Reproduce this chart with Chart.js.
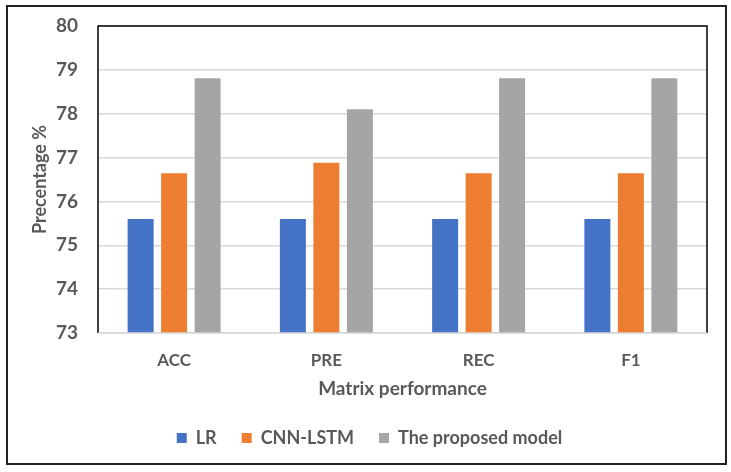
<!DOCTYPE html>
<html>
<head>
<meta charset="utf-8">
<script src="https://cdn.jsdelivr.net/npm/chart.js@4/dist/chart.umd.min.js"></script>
<style>
html,body{margin:0;padding:0;background:#fff;}
#wrap{width:731px;height:472px;position:relative;}
</style>
</head>
<body>
<div id="wrap"><canvas id="c" width="731" height="472"></canvas></div>
<script>
const categories = ["ACC", "PRE", "REC", "F1"];
const seriesNames = ["LR", "CNN-LSTM", "The proposed model"];
const lrValues = [75.6, 75.6, 75.6, 75.6];
const cnnLstmValues = [76.64, 76.88, 76.64, 76.64];
const proposedValues = [78.81, 78.1, 78.81, 78.81];
const yTicks = [73, 74, 75, 76, 77, 78, 79, 80];

const colors = ["#4472C4", "#ED7D31", "#A5A5A5"];
const FONT = "Lato, 'Open Sans', sans-serif";
const TXT = "#595959";

const framePlugin = {
  id: 'frames',
  afterLayout(chart) {
    const lg = chart.legend;
    if (lg) { lg.left += 12; lg.top += 2; lg.bottom += 2; }
  },
  beforeDraw(chart) {
    const ctx = chart.ctx;
    ctx.save();
    ctx.fillStyle = '#fff';
    ctx.fillRect(0, 0, chart.width, chart.height);
    ctx.restore();
  },
  afterDatasetsDraw(chart) {
    const ctx = chart.ctx;
    const a = chart.chartArea;
    ctx.save();
    ctx.strokeStyle = '#000';
    ctx.lineWidth = 1.5;
    ctx.beginPath();
    ctx.moveTo(a.left, a.bottom);
    ctx.lineTo(a.left, a.top);
    ctx.lineTo(a.right, a.top);
    ctx.lineTo(a.right, a.bottom);
    ctx.stroke();
    ctx.strokeStyle = '#d9d9d9';
    ctx.lineWidth = 1.5;
    ctx.beginPath();
    ctx.moveTo(a.left, a.bottom);
    ctx.lineTo(a.right, a.bottom);
    ctx.stroke();
    ctx.restore();
  },
  afterDraw(chart) {
    const ctx = chart.ctx;
    ctx.save();
    ctx.strokeStyle = '#222';
    ctx.lineWidth = 2;
    ctx.strokeRect(7, 6, 719, 458);
    ctx.restore();
  }
};

new Chart(document.getElementById('c'), {
  type: 'bar',
  data: {
    labels: categories,
    datasets: [
      { label: seriesNames[0], data: lrValues, backgroundColor: colors[0] },
      { label: seriesNames[1], data: cnnLstmValues, backgroundColor: colors[1] },
      { label: seriesNames[2], data: proposedValues, backgroundColor: colors[2] }
    ]
  },
  options: {
    responsive: false,
    animation: false,
    devicePixelRatio: 1,
    layout: { padding: { left: 20, right: 24, top: 26, bottom: 17 } },
    datasets: { bar: { categoryPercentage: 0.66, barPercentage: 0.776 } },
    scales: {
      x: {
        grid: { display: false, drawTicks: false },
        border: { display: false },
        ticks: { color: TXT, font: { family: FONT, size: 17, weight: 'bold' }, padding: 17 },
        title: { display: true, text: 'Matrix performance', color: TXT,
                 font: { family: FONT, size: 19, weight: 'bold' }, padding: { top: 0, bottom: 2 } },
        afterFit(s) { s.height = 69; }
      },
      y: {
        min: 73, max: 80,
        afterBuildTicks(s) { s.ticks = yTicks.map(v => ({ value: v })); },
        grid: { color: '#d9d9d9', lineWidth: 1.5, drawTicks: false },
        border: { display: false },
        ticks: { color: TXT, font: { family: FONT, size: 19, weight: 'bold' }, padding: 20 },
        title: { display: true, text: 'Precentage %', color: TXT,
                 font: { family: FONT, size: 18, weight: 'bold' }, padding: { top: 9, bottom: 0 } },
        afterFit(s) { s.width = 78; s.paddingTop = 0; s.paddingBottom = 0; }
      }
    },
    plugins: {
      legend: {
        position: 'bottom',
        labels: {
          color: TXT, boxWidth: 10, boxHeight: 10, padding: 25,
          font: { family: FONT, size: 18, weight: 'bold' }
        }
      },
      tooltip: { enabled: false }
    }
  },
  plugins: [framePlugin]
});
</script>
</body>
</html>
